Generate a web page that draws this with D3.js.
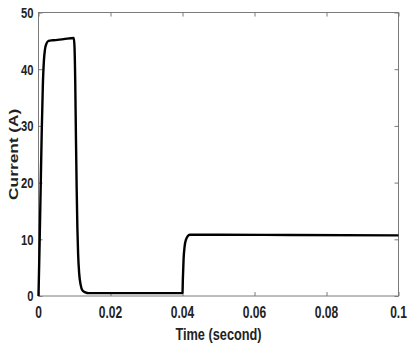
<!DOCTYPE html>
<html><head><meta charset="utf-8">
<script src="https://cdn.jsdelivr.net/npm/d3@7"></script>
<style>
html,body{margin:0;padding:0;background:#fff;}
svg{display:block;}
text{font-family:"Liberation Sans",Arial,sans-serif;font-weight:bold;fill:#222;}
</style></head>
<body>
<svg id="chart" width="414" height="350"></svg>
<script>
// Data (time in seconds, current in A)
const time = [0, 0.0003, 0.0006, 0.0009, 0.0012, 0.0015, 0.0018, 0.0022, 0.0028, 0.004, 0.007, 0.0098,
  0.0100, 0.0102, 0.0104, 0.0106, 0.0108, 0.0110, 0.0113, 0.0117, 0.0122, 0.0130, 0.0140, 0.02, 0.03, 0.0399,
  0.0400, 0.0401, 0.0403, 0.0406, 0.0410, 0.0415, 0.0420, 0.05, 0.07, 0.1];
const current = [0, 9, 19, 29, 37, 41.5, 43.5, 44.5, 45.0, 45.1, 45.3, 45.5,
  44, 38, 28, 19, 12, 7.5, 4, 2, 1, 0.65, 0.5, 0.5, 0.5, 0.5,
  0.6, 3, 6.5, 8.8, 10, 10.6, 10.8, 10.8, 10.75, 10.7];
const xTicks = [0, 0.02, 0.04, 0.06, 0.08, 0.1];
const xTickLabels = ["0", "0.02", "0.04", "0.06", "0.08", "0.1"];
const yTicks = [0, 10, 20, 30, 40, 50];
const yTickLabels = ["0", "10", "20", "30", "40", "50"];
const xTitle = "Time (second)";
const yTitle = "Current (A)";

const svg = d3.select("#chart");
const L = 38.5, R = 398.5, T = 12.5, B = 296;
const x = d3.scaleLinear().domain([0, 0.1]).range([L, R]);
const y = d3.scaleLinear().domain([0, 50]).range([B, T]);
const axisColor = "#7a7a7a";
const tl = 4;

// Box
svg.append("rect").attr("x", L).attr("y", T).attr("width", R - L).attr("height", B - T)
  .attr("fill", "none").attr("stroke", axisColor).attr("stroke-width", 1);

// Axes with inward ticks
const gxB = svg.append("g").attr("transform", `translate(0,${B})`)
  .call(d3.axisBottom(x).tickValues(xTicks).tickSizeInner(-tl).tickSizeOuter(0).tickFormat(() => ""));
const gxT = svg.append("g").attr("transform", `translate(0,${T})`)
  .call(d3.axisTop(x).tickValues(xTicks).tickSizeInner(-tl).tickSizeOuter(0).tickFormat(() => ""));
const gyL = svg.append("g").attr("transform", `translate(${L},0)`)
  .call(d3.axisLeft(y).tickValues(yTicks).tickSizeInner(-tl).tickSizeOuter(0).tickFormat(() => ""));
const gyR = svg.append("g").attr("transform", `translate(${R},0)`)
  .call(d3.axisRight(y).tickValues(yTicks).tickSizeInner(-tl).tickSizeOuter(0).tickFormat(() => ""));
[gxB, gxT, gyL, gyR].forEach(g => {
  g.select(".domain").remove();
  g.selectAll("line").attr("stroke", axisColor);
});

// Tick labels (horizontally compressed like the reference)
const sx = 0.75;
xTicks.forEach((v, i) => {
  svg.append("text")
    .attr("transform", `translate(${x(v)},318.3) scale(${sx},1)`)
    .attr("text-anchor", "middle").attr("font-size", 16)
    .text(xTickLabels[i]);
});
yTicks.forEach((v, i) => {
  svg.append("text")
    .attr("transform", `translate(33.5,${y(v) + 5.4}) scale(${sx},1)`)
    .attr("text-anchor", "end").attr("font-size", 15)
    .text(yTickLabels[i]);
});

// Titles
svg.append("text")
  .attr("transform", `translate(${(L + R) / 2},340) scale(${sx},1)`)
  .attr("text-anchor", "middle").attr("font-size", 17)
  .text(xTitle);
svg.append("text")
  .attr("transform", `translate(17.5,${(T + B) / 2}) rotate(-90) scale(1,${sx})`)
  .attr("text-anchor", "middle").attr("font-size", 17.3)
  .text(yTitle);

// Curve
const line = d3.line().x((d, i) => x(time[i])).y((d, i) => y(current[i])).curve(d3.curveMonotoneX);
svg.append("path").datum(current).attr("d", line)
  .attr("fill", "none").attr("stroke", "#000").attr("stroke-width", 2.4)
  .attr("stroke-linejoin", "round");
</script>
</body></html>
